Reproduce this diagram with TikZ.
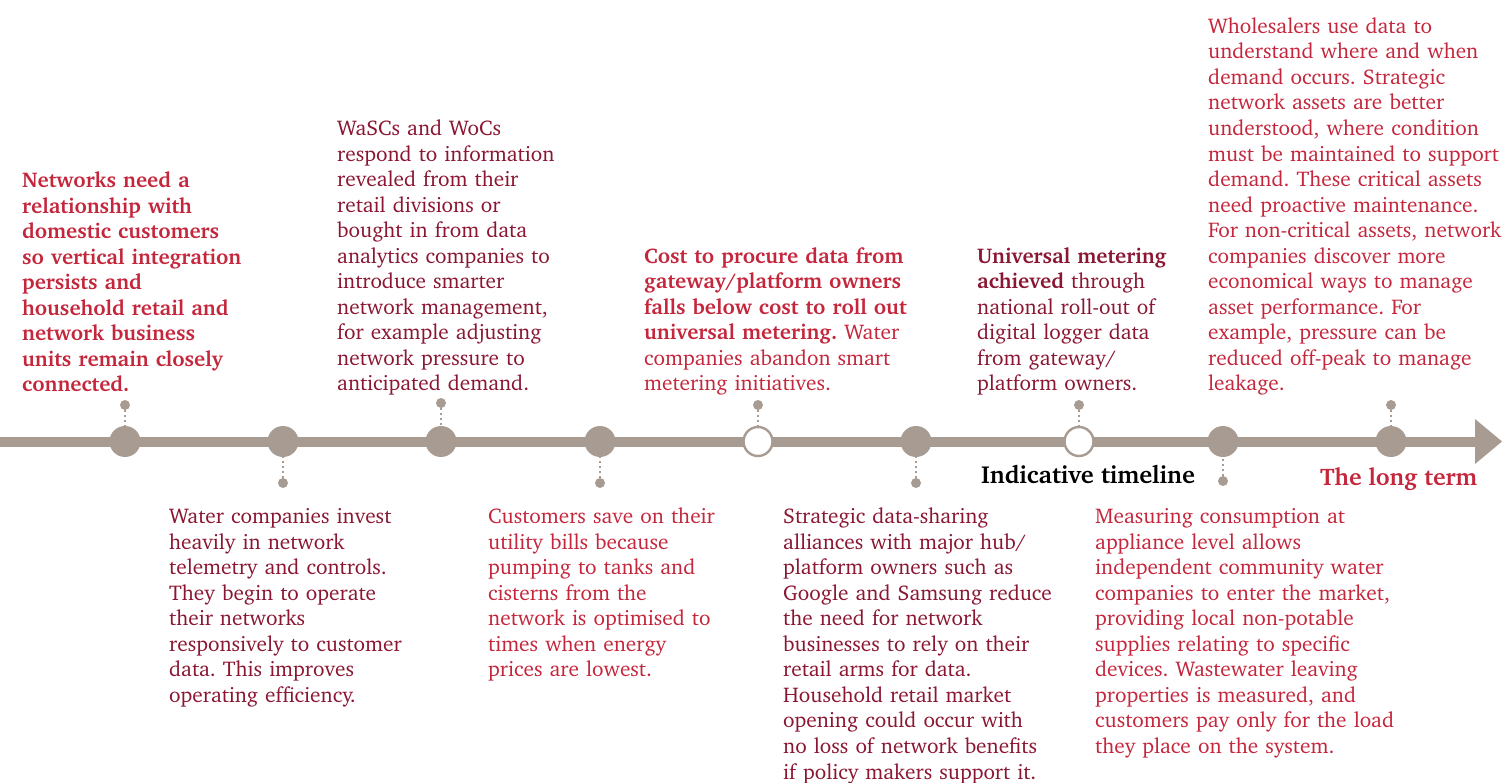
\documentclass[tikz,border=0pt]{standalone}
\usepackage[T1]{fontenc}
\usepackage{charter}
\definecolor{lightred}{RGB}{196,38,60}
\definecolor{darkred}{RGB}{138,22,50}
\definecolor{tgrey}{RGB}{168,155,146}
\tikzset{
  txt/.style={anchor=base west, inner sep=0pt, text width=420pt, align=left,
    font=\fontsize{21.3}{25.55}\selectfont\frenchspacing},
  bigdot/.style={circle, fill=tgrey, minimum size=31pt, inner sep=0pt},
  opendot/.style={circle, fill=white, draw=tgrey, line width=2.4pt, minimum size=29pt, inner sep=0pt},
  smalldot/.style={circle, fill=tgrey, minimum size=10pt, inner sep=0pt},
  dotline/.style={draw=tgrey, line width=2pt, dash pattern=on 1.6pt off 3.4pt},
  lbl/.style={anchor=base west, inner sep=0pt, font=\fontsize{24}{28}\selectfont\bfseries}
}
\begin{document}
\begin{tikzpicture}[x=1pt,y=-1pt]
\useasboundingbox (0,0) rectangle (1512,783);
% timeline
\coordinate (tstart) at (0,441.5);
\coordinate (tend) at (1477,441.5);
\draw[tgrey, line width=10pt] (tstart) -- (tend);
\fill[tgrey] (1475,419) -- (1502,441.5) -- (1475,464) -- cycle;
% markers
\node[bigdot] (m1) at (125,441.5) {};
\node[bigdot] (m2) at (283,441.5) {};
\node[bigdot] (m3) at (441,441.5) {};
\node[bigdot] (m4) at (600,441.5) {};
\node[opendot] (m5) at (758,441.5) {};
\node[bigdot] (m6) at (916,441.5) {};
\node[opendot] (m7) at (1079,441.5) {};
\node[bigdot] (m8) at (1223,441.5) {};
\node[bigdot] (m9) at (1391,441.5) {};
% small dots
\node[smalldot] (d1) at (125,405) {};
\node[smalldot] (d2) at (283,483) {};
\node[smalldot] (d3) at (441,403) {};
\node[smalldot] (d4) at (600,483) {};
\node[smalldot] (d5) at (758,405) {};
\node[smalldot] (d6) at (916,483) {};
\node[smalldot] (d7) at (1079,405) {};
\node[smalldot] (d8) at (1223,481) {};
\node[smalldot] (d9) at (1391,405) {};
\foreach \i in {1,...,9}{\draw[dotline] (d\i) -- (m\i);}
% texts above
\node[txt, lightred] (ta) at (22,187.6) {\bfseries Networks need a\\relationship with\\domestic customers\\so vertical integration\\persists and\\household retail and\\network business\\units remain closely\\connected.};
\node[txt, darkred] (tb) at (337,135.5) {WaSCs and WoCs\\respond to information\\revealed from their\\retail divisions or\\bought in from data\\analytics companies to\\introduce smarter\\network management,\\for example adjusting\\network pressure to\\anticipated demand.};
\node[txt, lightred] (tc) at (644,263.2) {\textbf{Cost to procure data from}\\\textbf{gateway/platform owners}\\\textbf{falls below cost to roll out}\\\textbf{universal metering.} Water\\companies abandon smart\\metering initiatives.};
\node[txt, darkred] (td) at (977,263.2) {\textbf{Universal metering}\\\textbf{achieved} through\\national roll-out of\\digital logger data\\from gateway/\\platform owners.};
\node[txt, lightred] (te) at (1208,33.3) {Wholesalers use data to\\understand where and when\\demand occurs. Strategic\\network assets are better\\understood, where condition\\must be maintained to support\\demand. These critical assets\\need proactive maintenance.\\For non-critical assets, network\\companies discover more\\economical ways to manage\\asset performance. For\\example, pressure can be\\reduced off-peak to manage\\leakage.};
% texts below
\node[txt, darkred] (tf) at (169,523.5) {Water companies invest\\heavily in network\\telemetry and controls.\\They begin to operate\\their networks\\responsively to customer\\data. This improves\\operating efficiency.};
\node[txt, lightred] (tg) at (488,523.5) {Customers save on their\\utility bills because\\pumping to tanks and\\cisterns from the\\network is optimised to\\times when energy\\prices are lowest.};
\node[txt, darkred] (th) at (783,523.5) {Strategic data-sharing\\alliances with major hub/\\platform owners such as\\Google and Samsung reduce\\the need for network\\businesses to rely on their\\retail arms for data.\\Household retail market\\opening could occur with\\no loss of network benefits\\if policy makers support it.};
\node[txt, lightred] (ti) at (1095,523.5) {Measuring consumption at\\appliance level allows\\independent community water\\companies to enter the market,\\providing local non-potable\\supplies relating to specific\\devices. Wastewater leaving\\properties is measured, and\\customers pay only for the load\\they place on the system.};
% labels
\node[lbl, black, font=\fontsize{24.6}{28}\selectfont\bfseries] (l1) at (981,483) {Indicative timeline};
\node[lbl, lightred] (l2) at (1320,485) {The long term};
\end{tikzpicture}
\end{document}
